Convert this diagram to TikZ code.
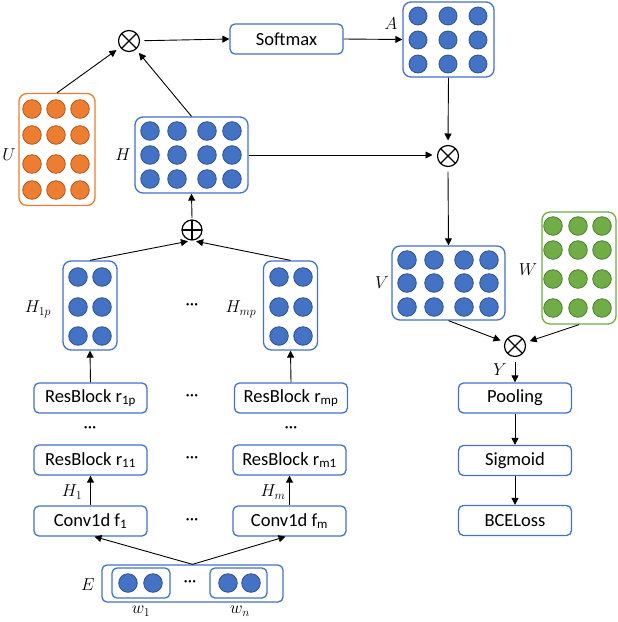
\documentclass[tikz,border=0pt]{standalone}
\usepackage{fontspec}
\setmainfont{Carlito}
\usetikzlibrary{arrows.meta,calc}
\definecolor{bl}{HTML}{4472C4}
\definecolor{bld}{HTML}{2F528F}
\definecolor{orf}{HTML}{ED7D31}
\definecolor{ord}{HTML}{AE5A21}
\definecolor{grf}{HTML}{70AD47}
\definecolor{grd}{HTML}{507E32}
\newcommand{\msub}[1]{\mbox{\fontsize{12.5}{13}\selectfont$#1$}}
\begin{document}
\begin{tikzpicture}[x=1pt,y=-1pt,
  mat/.style={draw=bl, line width=1.3pt, rounded corners=8pt, inner sep=0pt},
  omat/.style={mat, draw=orf},
  gmat/.style={mat, draw=grf},
  tbox/.style={draw=bl, line width=1.3pt, rounded corners=5pt, minimum width=113pt, minimum height=30pt, inner sep=0pt, font=\fontsize{18.5}{21}\selectfont},
  lab/.style={font=\fontsize{16.5}{19}\selectfont, inner sep=0pt},
  dotsl/.style={font=\fontsize{17}{19}\selectfont, inner sep=0pt},
  conn/.style={line width=0.9pt, -{Triangle[length=7pt,width=7pt]}},
  ox/.style={circle, draw, line width=1.2pt, minimum size=21pt, inner sep=0pt, outer sep=5pt,
    path picture={\draw[line width=1.2pt] ($(path picture bounding box.center)+(-7.4pt,-7.4pt)$) -- ($(path picture bounding box.center)+(7.4pt,7.4pt)$);
                  \draw[line width=1.2pt] ($(path picture bounding box.center)+(-7.4pt,7.4pt)$) -- ($(path picture bounding box.center)+(7.4pt,-7.4pt)$);}},
  op/.style={circle, draw, line width=1.2pt, minimum size=20pt, inner sep=0pt, outer sep=2pt,
    path picture={\draw[line width=1.2pt] ($(path picture bounding box.center)+(-10pt,0pt)$) -- ($(path picture bounding box.center)+(10pt,0pt)$);
                  \draw[line width=1.2pt] ($(path picture bounding box.center)+(0pt,-10pt)$) -- ($(path picture bounding box.center)+(0pt,10pt)$);}},
  bdot/.style={fill=bl, draw=bld, line width=0.8pt},
  odot/.style={fill=orf, draw=ord, line width=0.8pt},
  gdot/.style={fill=grf, draw=grd, line width=0.8pt}
]
\useasboundingbox (0,0) rectangle (618,622);

% operators
\node[ox] (ox1) at (129,41) {};
\node[ox] (ox2) at (448,156) {};
\node[ox] (ox3) at (515,346) {};
\node[op] (opl) at (192,230) {};

% matrices
\node[mat, minimum width=91pt, minimum height=75pt] (A) at (448.5,39.5) {};
\foreach \x in {418,448,478}{\foreach \y in {16,40,64}{\filldraw[bdot] (\x,\y) circle[radius=9pt];}}
\node[lab] (Alab) at (391,24) {$A$};

\node[omat, minimum width=76pt, minimum height=112pt] (U) at (57,149.5) {};
\foreach \x in {32,56,80}{\foreach \y in {109,135,164,190}{\filldraw[odot] (\x,\y) circle[radius=9.3pt];}}
\node[lab] (Ulab) at (9,155) {$U$};

\node[mat, minimum width=113pt, minimum height=76pt] (H) at (191.5,155) {};
\foreach \x in {150,177,207,232}{\foreach \y in {131,155,179}{\filldraw[bdot] (\x,\y) circle[radius=9.3pt];}}
\node[lab] (Hlab) at (123,155) {$H$};

\node[mat, minimum width=113pt, minimum height=74pt] (V) at (448.5,283) {};
\foreach \x in {407,434,464,489}{\foreach \y in {260,283,307}{\filldraw[bdot] (\x,\y) circle[radius=9.3pt];}}
\node[lab] (Vlab) at (382,283) {$V$};

\node[gmat, minimum width=74pt, minimum height=112pt] (W) at (579,268) {};
\foreach \x in {553,578,602}{\foreach \y in {226,250,279,308}{\filldraw[gdot] (\x,\y) circle[radius=9.3pt];}}
\node[lab] (Wlab) at (528,270) {$W$};

\node[mat, minimum width=54pt, minimum height=89pt] (H1p) at (90,305.5) {};
\foreach \x in {78,102}{\foreach \y in {277,307,336}{\filldraw[bdot] (\x,\y) circle[radius=9.3pt];}}
\node[lab] (H1plab) at (38,309) {$H_{\msub{1p}}$};

\node[mat, minimum width=54pt, minimum height=89pt] (Hmp) at (290.5,305.5) {};
\foreach \x in {279,303}{\foreach \y in {277,307,336}{\filldraw[bdot] (\x,\y) circle[radius=9.3pt];}}
\node[lab] (Hmplab) at (241,309) {$H_{\msub{mp}}$};
\node[dotsl] (hd) at (192,307) {···};

% text boxes
\node[tbox] (soft) at (286.5,39) {Softmax};
\node[tbox] (pool) at (515,398) {Pooling};
\node[tbox] (sig) at (515,460.5) {Sigmoid};
\node[tbox] (bce) at (515,520.5) {BCELoss};

\node[tbox] (r1p) at (90.5,398) {ResBlock r\textsubscript{1p}};
\node[tbox] (rmp) at (291,398) {ResBlock r\textsubscript{mp}};
\node[tbox] (r11) at (90.5,460) {ResBlock r\textsubscript{11}};
\node[tbox] (rm1) at (289.5,460) {ResBlock r\textsubscript{m1}};
\node[tbox] (c1) at (90.5,521) {Conv1d f\textsubscript{1}};
\node[tbox] (cm) at (289.5,521) {Conv1d f\textsubscript{m}};
\node[dotsl] (d1) at (192,398) {···};
\node[dotsl] (d2) at (192,460) {···};
\node[dotsl] (d3) at (192,522) {···};
\node[dotsl] (d4) at (90,430) {···};
\node[dotsl] (d5) at (291,430) {···};
\node[lab] (H1lab) at (72,492) {$H_{\msub{1}}$};
\node[lab] (Hmlab) at (273,492) {$H_{\msub{m}}$};

% embedding
\node[mat, rounded corners=5pt, minimum width=181pt, minimum height=37pt] (E) at (192.5,583.5) {};
\node[mat, rounded corners=5pt, minimum width=58pt, minimum height=30pt] (w1) at (141,583) {};
\node[mat, rounded corners=5pt, minimum width=57pt, minimum height=30pt] (wn) at (238.5,583) {};
\foreach \x in {128,153,228,251}{\filldraw[bdot] (\x,583) circle[radius=9.3pt];}
\node[dotsl] (d6) at (190,584) {···};
\node[lab] (Elab) at (88,585) {$E$};
\node[lab] (w1lab) at (141,611) {$w_{\msub{1}}$};
\node[lab] (wnlab) at (240,611) {$w_{\msub{n}}$};

% connectors
\draw[conn] (U.north) -- (ox1);
\draw[conn] (H.north) -- (ox1);
\draw[conn] (ox1) -- (soft.west);
\draw[conn] (soft.east) -- (A.west);
\draw[conn] (A.south) -- (ox2.north);
\draw[conn] (H.east) -- (H.east -| ox2.west);
\draw[conn] (ox2.south) -- (V.north);
\draw[conn] (V.south) -- (ox3);
\draw[conn] (W.south) -- (ox3);
\draw[conn] (ox3.south) -- (pool.north);
\node[lab] (Ylab) at (500,370) {$Y$};
\draw[conn] (pool.south) -- (sig.north);
\draw[conn] (sig.south) -- (bce.north);

\draw[conn] (opl.north) -- (H.south);
\draw[conn] (H1p.north) -- (opl.250);
\draw[conn] (Hmp.north) -- (opl.290);
\draw[conn] (r1p.north) -- (H1p.south);
\draw[conn] (rmp.north) -- (Hmp.south);
\draw[conn] (c1.north) -- (r11.south);
\draw[conn] (cm.north) -- (rm1.south);
\draw[conn] (E.north) -- ($(c1.south)+(4,0)$);
\draw[conn] (E.north) -- ($(cm.south)+(-4,0)$);
\end{tikzpicture}
\end{document}
